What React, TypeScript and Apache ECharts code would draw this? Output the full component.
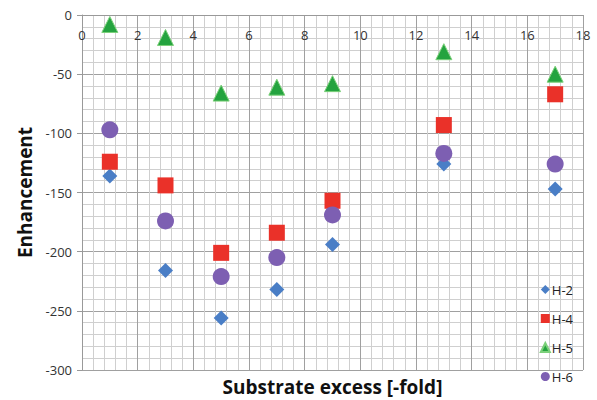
import React, { useEffect, useRef } from "react";
import * as echarts from "echarts";

const xValues = [1, 3, 5, 7, 9, 13, 17];
const h2 = [-136, -216, -256, -232, -194, -126, -147];
const h4 = [-124, -144, -201, -184, -157, -93, -67];
const h5 = [-8, -19, -66, -61, -58, -31, -50];
const h6 = [-97, -174, -221, -205, -169, -117, -126];
const seriesNames = ["H-2", "H-4", "H-5", "H-6"];

export default function App() {
  const ref = useRef<HTMLDivElement>(null);
  useEffect(() => {
    if (!ref.current) return;
    const chart = echarts.init(ref.current, undefined, { renderer: "svg" });
    const pts = (ys: number[]) => xValues.map((x, i) => [x, ys[i]]);
    const font = "'Open Sans', 'Noto Sans', sans-serif";
    chart.setOption({
      animation: false,
      textStyle: { fontFamily: font },
      grid: { left: 82, right: 14, top: 15, bottom: 29, containLabel: false },
      legend: {
        orient: "vertical",
        right: 19,
        top: 278,
        itemGap: 16,
        itemWidth: 9,
        itemHeight: 9,
        textStyle: { fontSize: 13, color: "#222", fontFamily: font, padding: [0, 0, 0, -3] },
        data: seriesNames,
      },
      xAxis: {
        type: "value",
        min: 0,
        max: 18,
        interval: 2,
        position: "top",
        name: "Substrate excess [-fold]",
        nameLocation: "middle",
        nameGap: -381,
        nameTextStyle: { fontSize: 19, fontWeight: "bold", color: "#111", fontFamily: font },
        axisLine: { show: true, onZero: false, lineStyle: { color: "#999" } },
        axisTick: { show: false },
        axisLabel: { inside: true, fontSize: 13, color: "#333", margin: 13, fontFamily: font },
        splitLine: { show: true, lineStyle: { color: "#a0a0a0", width: 1 } },
        minorTick: { show: true, splitNumber: 5, length: 0 },
        minorSplitLine: { show: true, lineStyle: { color: "#cfcfcf", width: 1 } },
      },
      yAxis: {
        type: "value",
        min: -300,
        max: 0,
        interval: 50,
        name: "Enhancement",
        nameLocation: "middle",
        nameGap: 48,
        nameTextStyle: { fontSize: 19, fontWeight: "bold", color: "#111", fontFamily: font },
        axisLine: { show: true, lineStyle: { color: "#999" } },
        axisTick: { show: true, length: 5, lineStyle: { color: "#999" } },
        axisLabel: { fontSize: 13, color: "#333", margin: 10, fontFamily: font },
        splitLine: { show: true, lineStyle: { color: "#a0a0a0", width: 1 } },
        minorTick: { show: true, splitNumber: 5, length: 0 },
        minorSplitLine: { show: true, lineStyle: { color: "#cfcfcf", width: 1 } },
      },
      series: [
        {
          name: "H-2",
          type: "scatter",
          symbol: "diamond",
          symbolSize: 15,
          itemStyle: { color: "#4a7ec6", opacity: 1 },
          data: pts(h2),
        },
        {
          name: "H-4",
          type: "scatter",
          symbol: "rect",
          symbolSize: 16,
          itemStyle: { color: "#ea3129", opacity: 1 },
          data: pts(h4),
        },
        {
          name: "H-5",
          type: "scatter",
          symbol: "triangle",
          symbolSize: 16,
          itemStyle: { color: "#24a33f", borderColor: "#7cd07a", borderWidth: 1, opacity: 1 },
          data: pts(h5),
        },
        {
          name: "H-6",
          type: "scatter",
          symbol: "circle",
          symbolSize: 17,
          itemStyle: { color: "#7d5fb2", opacity: 1 },
          data: pts(h6),
        },
      ],
    });
    return () => chart.dispose();
  }, []);
  return (
    <div
      ref={ref}
      style={{ position: "fixed", left: 0, top: 0, width: 597, height: 400, background: "#fff" }}
    />
  );
}
